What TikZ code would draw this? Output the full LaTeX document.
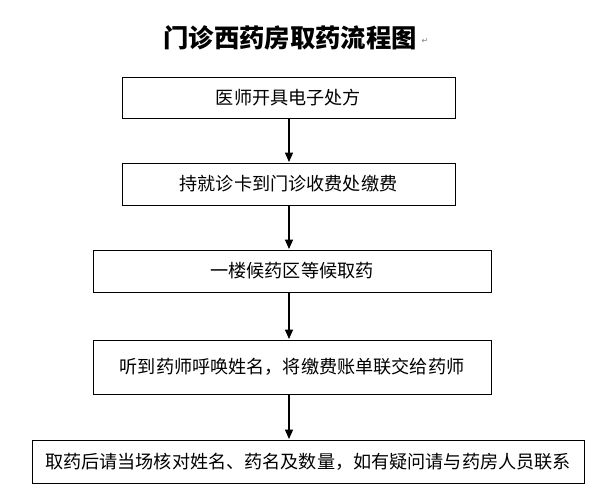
\documentclass[tikz,border=0pt]{standalone}
\usepackage{fontspec}
\newfontfamily\cjk{Noto Sans CJK SC}
\newfontfamily\djvfont{DejaVu Sans}
\usetikzlibrary{arrows.meta}
\begin{document}
\begin{tikzpicture}[x=0.75pt,y=-0.75pt,
  stepbox/.style={draw,thin,inner sep=0pt,font=\cjk\fontsize{13.6}{15}\selectfont},
  arr/.style={-{Triangle[length=7pt,width=6pt]},line width=1pt}]
\useasboundingbox (0,0) rectangle (600,495);
\node[font=\cjk\bfseries\fontsize{19}{22}\selectfont] (t) at (290,38) {门诊西药房取药流程图};
\node[font=\djvfont\fontsize{6}{7}\selectfont,gray] (rt) at (425,41) {↵};
\node[stepbox,minimum width=333*0.75pt,minimum height=41*0.75pt] (b1) at (288.5,97.5) {医师开具电子处方};
\node[stepbox,minimum width=333*0.75pt,minimum height=42*0.75pt] (b2) at (288.5,184) {持就诊卡到门诊收费处缴费};
\node[stepbox,minimum width=398*0.75pt,minimum height=42*0.75pt] (b3) at (292,271) {一楼候药区等候取药};
\node[stepbox,minimum width=398*0.75pt,minimum height=54*0.75pt] (b4) at (292,367) {听到药师呼唤姓名，将缴费账单联交给药师};
\node[stepbox,minimum width=552*0.75pt,minimum height=43*0.75pt] (b5) at (308,461.5) {取药后请当场核对姓名、药名及数量，如有疑问请与药房人员联系};
\draw[arr] (289,118) -- (289,162);
\draw[arr] (289,205) -- (289,249);
\draw[arr] (289,292) -- (289,339);
\draw[arr] (289,394) -- (289,439);
\end{tikzpicture}
\end{document}
